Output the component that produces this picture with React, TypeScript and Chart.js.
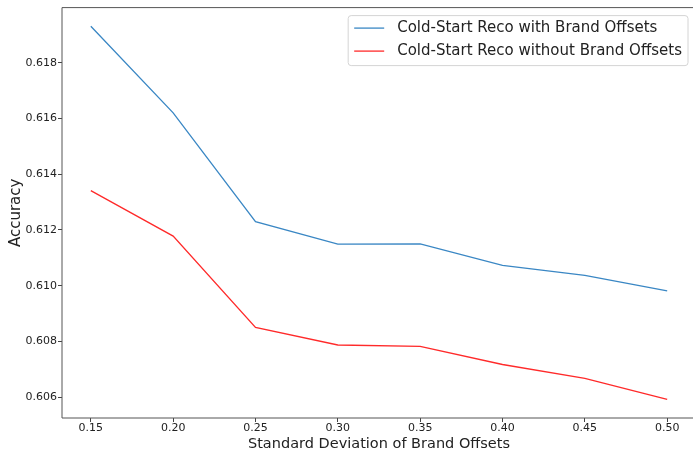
import React, { useEffect, useRef } from "react";
import { Chart, registerables } from "chart.js";

Chart.register(...registerables);

const xValues = [0.15, 0.2, 0.25, 0.3, 0.35, 0.4, 0.45, 0.5];
const withBrandOffsets = [0.61931, 0.6162, 0.6123, 0.61149, 0.6115, 0.61073, 0.61037, 0.60981];
const withoutBrandOffsets = [0.61341, 0.61178, 0.6085, 0.60787, 0.60782, 0.60717, 0.60667, 0.60592];
const seriesLabels = ["Cold-Start Reco with Brand Offsets", "Cold-Start Reco without Brand Offsets"];
const seriesColors = ["#3a87c4", "#ff2a2a"];

const xTickValues = [0.15, 0.2, 0.25, 0.3, 0.35, 0.4, 0.45, 0.5];
const xTickLabels = ["0.15", "0.20", "0.25", "0.30", "0.35", "0.40", "0.45", "0.50"];
const yTickValues = [0.606, 0.608, 0.61, 0.612, 0.614, 0.616, 0.618];
const yTickLabels = ["0.606", "0.608", "0.610", "0.612", "0.614", "0.616", "0.618"];

const xTitle = "Standard Deviation of Brand Offsets";
const yTitle = "Accuracy";

const X_MIN = 0.1325;
const X_MAX = 0.5175;
const Y_MIN = 0.60525;
const Y_MAX = 0.61998;

const FONT = "'DejaVu Sans', sans-serif";
const TEXT_COLOR = "#222";

const framePlugin = {
  id: "mplFrame",
  afterDraw(chart: any) {
    const { ctx, chartArea: a } = chart;
    ctx.save();
    ctx.strokeStyle = "#555";
    ctx.lineWidth = 1;
    ctx.beginPath();
    ctx.moveTo(a.right, a.top);
    ctx.lineTo(a.left, a.top);
    ctx.lineTo(a.left, a.bottom);
    ctx.lineTo(a.right, a.bottom);
    ctx.stroke();
    ctx.restore();
  },
};

const legendPlugin = {
  id: "mplLegend",
  afterDraw(chart: any) {
    const { ctx, chartArea: a } = chart;
    ctx.save();
    ctx.font = `15px ${FONT}`;
    const items = chart.data.datasets.map((d: any) => ({
      text: d.label as string,
      color: d.borderColor as string,
      w: ctx.measureText(d.label).width,
    }));
    const maxW = Math.max(...items.map((i: any) => i.w));
    const pad = 6;
    const handle = 30;
    const gap = 13;
    const boxW = pad + handle + gap + maxW + pad;
    const boxH = 50;
    const right = a.right - 8;
    const top = a.top + 8;
    const left = right - boxW;
    const r = 3;
    ctx.beginPath();
    ctx.moveTo(left + r, top);
    ctx.lineTo(right - r, top);
    ctx.arcTo(right, top, right, top + r, r);
    ctx.lineTo(right, top + boxH - r);
    ctx.arcTo(right, top + boxH, right - r, top + boxH, r);
    ctx.lineTo(left + r, top + boxH);
    ctx.arcTo(left, top + boxH, left, top + boxH - r, r);
    ctx.lineTo(left, top + r);
    ctx.arcTo(left, top, left + r, top, r);
    ctx.closePath();
    ctx.fillStyle = "rgba(255,255,255,0.8)";
    ctx.fill();
    ctx.strokeStyle = "#d4d4d4";
    ctx.lineWidth = 1;
    ctx.stroke();
    items.forEach((it: any, i: number) => {
      const cy = top + 12.5 + i * 23;
      ctx.beginPath();
      ctx.strokeStyle = it.color;
      ctx.lineWidth = 1.3;
      ctx.moveTo(left + pad, cy);
      ctx.lineTo(left + pad + handle, cy);
      ctx.stroke();
      ctx.fillStyle = TEXT_COLOR;
      ctx.textBaseline = "middle";
      ctx.textAlign = "left";
      ctx.fillText(it.text, left + pad + handle + gap, cy);
    });
    ctx.restore();
  },
};

export default function App() {
  const canvasRef = useRef<HTMLCanvasElement | null>(null);

  useEffect(() => {
    const canvas = canvasRef.current;
    if (!canvas) return;
    const chart = new Chart(canvas, {
      type: "line",
      data: {
        datasets: [
          {
            label: seriesLabels[0],
            data: xValues.map((x, i) => ({ x, y: withBrandOffsets[i] })),
            borderColor: seriesColors[0],
            backgroundColor: seriesColors[0],
            borderWidth: 1.3,
            pointRadius: 0,
            tension: 0,
          },
          {
            label: seriesLabels[1],
            data: xValues.map((x, i) => ({ x, y: withoutBrandOffsets[i] })),
            borderColor: seriesColors[1],
            backgroundColor: seriesColors[1],
            borderWidth: 1.3,
            pointRadius: 0,
            tension: 0,
          },
        ],
      },
      options: {
        animation: false,
        responsive: false,
        devicePixelRatio: 1,
        layout: { padding: { left: 0, top: 5, right: 4, bottom: 0 } },
        plugins: {
          legend: { display: false },
          tooltip: { enabled: false },
        },
        scales: {
          x: {
            type: "linear",
            min: X_MIN,
            max: X_MAX,
            afterBuildTicks: (axis: any) => {
              axis.ticks = xTickValues.map((v) => ({ value: v }));
            },
            afterFit: (axis: any) => {
              axis.height = 35;
            },
            border: { display: false },
            grid: {
              drawOnChartArea: false,
              drawTicks: true,
              tickLength: 4,
              color: "#444",
              lineWidth: 1,
            },
            ticks: {
              autoSkip: false,
              maxRotation: 0,
              padding: 0,
              color: TEXT_COLOR,
              font: { family: FONT, size: 11 },
              callback: (_v: any, i: number) => xTickLabels[i],
            },
            title: {
              display: true,
              text: xTitle,
              color: TEXT_COLOR,
              font: { family: FONT, size: 14.5 },
              padding: { top: 0, bottom: 0 },
            },
          },
          y: {
            type: "linear",
            min: Y_MIN,
            max: Y_MAX,
            afterBuildTicks: (axis: any) => {
              axis.ticks = yTickValues.map((v) => ({ value: v }));
            },
            afterFit: (axis: any) => {
              axis.width = 62;
            },
            border: { display: false },
            grid: {
              drawOnChartArea: false,
              drawTicks: true,
              tickLength: 4,
              color: "#444",
              lineWidth: 1,
            },
            ticks: {
              autoSkip: false,
              padding: 1,
              color: TEXT_COLOR,
              font: { family: FONT, size: 11 },
              callback: (_v: any, i: number) => yTickLabels[i],
            },
            title: {
              display: true,
              text: yTitle,
              color: TEXT_COLOR,
              font: { family: FONT, size: 15 },
              padding: { top: 7, bottom: 0 },
            },
          },
        },
      },
      plugins: [framePlugin, legendPlugin],
    });
    return () => chart.destroy();
  }, []);

  return (
    <div
      style={{
        position: "fixed",
        left: 0,
        top: 0,
        width: 693,
        height: 449,
        overflow: "hidden",
        background: "#fff",
      }}
    >
      <canvas ref={canvasRef} width={700} height={453} style={{ display: "block" }} />
    </div>
  );
}
